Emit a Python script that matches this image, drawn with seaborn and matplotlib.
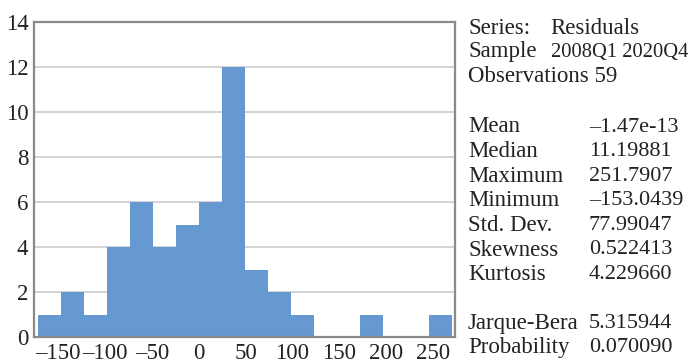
import numpy as np
import pandas as pd
import matplotlib
matplotlib.use("Agg")
import matplotlib.pyplot as plt
import seaborn as sns

# Histogram of residuals: bin counts from left to right
bin_start = -172.2
bin_width = 24.6
counts = [1, 2, 1, 4, 6, 4, 5, 6, 12, 3, 2, 1, 0, 0, 1, 0, 0, 1]

x_ticks = [-150, -100, -50, 0, 50, 100, 150, 200, 250]
y_ticks = [0, 2, 4, 6, 8, 10, 12, 14]

stat_labels = ["Mean", "Median", "Maximum", "Minimum", "Std. Dev.",
               "Skewness", "Kurtosis"]
stat_values = ["\u20131.47e-13", "11.19881", "251.7907", "\u2013153.0439",
               "77.99047", "0.522413", "4.229660"]
test_labels = ["Jarque-Bera", "Probability"]
test_values = ["5.315944", "0.070090"]

edges = [bin_start + bin_width * k for k in range(len(counts) + 1)]
centers = [(a + b) / 2 for a, b in zip(edges[:-1], edges[1:])]
df = pd.DataFrame({"resid": centers, "n": counts})

sns.set_theme(style="white")
plt.rcParams["font.family"] = ["Liberation Serif", "DejaVu Serif"]
FS = 16.5
TXT = "#222222"

fig = plt.figure(figsize=(6.96, 3.63), dpi=100)
W, H = 696, 363
ax = fig.add_axes([34 / W, 1 - 337 / H, (455 - 34) / W, (337 - 22) / H])

sns.histplot(data=df, x="resid", weights="n", bins=edges, ax=ax,
             color="#6699d2", alpha=1.0, linewidth=0, edgecolor="none",
             zorder=3)

ax.set_xlim(-176, 273.5)
ax.set_ylim(0, 14)
ax.set_yticks(y_ticks)
ax.set_yticklabels([str(v) for v in y_ticks], fontsize=FS, color=TXT)
ax.set_xticks(x_ticks)
ax.set_xticklabels([str(v).replace("-", "\u2013") for v in x_ticks],
                   fontsize=FS, color=TXT)
ax.tick_params(axis="x", length=0, pad=4)
ax.tick_params(axis="y", length=0, pad=4)
ax.set_xlabel("")
ax.set_ylabel("")

ax.yaxis.grid(True, color="#cccccc", linewidth=1.2, zorder=0)
ax.xaxis.grid(False)
ax.set_axisbelow(True)
for s in ax.spines.values():
    s.set_color("#8a8a8a")
    s.set_linewidth(1.6)
    s.set_zorder(5)


def put(px, py, text, size=FS):
    fig.text(px / W, 1 - py / H, text, fontsize=size, color=TXT,
             ha="left", va="center")


put(468, 28, "Series:")
put(550, 28, "Residuals")
put(468, 52, "Sample")
put(551, 52, "2008Q1 2020Q4", size=14.8)
put(468, 76, "Observations 59")

y0 = 127
for i, (lab, val) in enumerate(zip(stat_labels, stat_values)):
    put(468, y0 + i * 24.6, lab)
    put(589, y0 + i * 24.6, val, size=16)

for i, (lab, val) in enumerate(zip(test_labels, test_values)):
    put(468, 323 + i * 24.5, lab)
    put(589, 323 + i * 24.5, val, size=16)

fig.savefig("out.png", dpi=100)
